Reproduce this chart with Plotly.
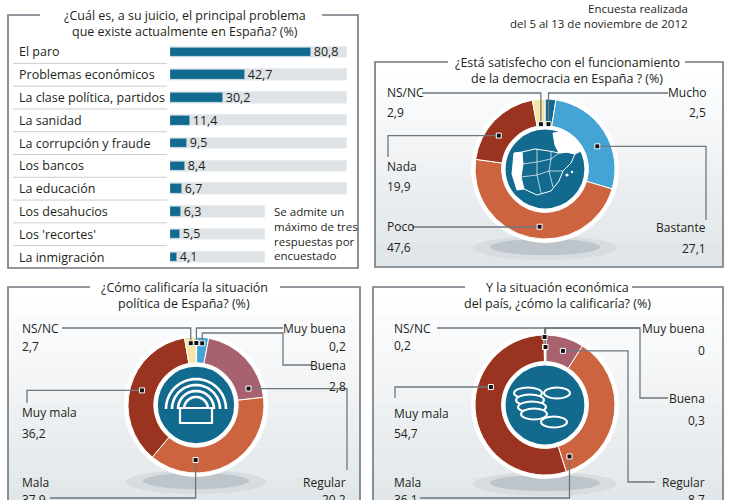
import math
import plotly.graph_objects as go

W, H = 730, 500

# ---------------- datos ----------------
problemas = ['El paro', 'Problemas económicos', 'La clase política, partidos', 'La sanidad',
             'La corrupción y fraude', 'Los bancos', 'La educación', 'Los desahucios',
             "Los 'recortes'", 'La inmigración']
problemas_pct = [80.8, 42.7, 30.2, 11.4, 9.5, 8.4, 6.7, 6.3, 5.5, 4.1]

democracia = ['Mucho', 'Bastante', 'Poco', 'Nada', 'NS/NC']
democracia_pct = [2.5, 27.1, 47.6, 19.9, 2.9]

politica = ['Muy buena', 'Buena', 'Regular', 'Mala', 'Muy mala', 'NS/NC']
politica_pct = [0.2, 2.8, 20.2, 37.9, 36.2, 2.7]

economia = ['Muy buena', 'Buena', 'Regular', 'Mala', 'Muy mala', 'NS/NC']
economia_pct = [0, 0.3, 8.7, 36.1, 54.7, 0.2]

# colores
AZUL = '#126b8e'
CLARO = '#45a4d6'
NARANJA = '#cc6440'
GRANATE = '#9a3420'
MALVA = '#a8626f'
CREMA = '#f4e4a6'
PISTA = '#dfe3e6'
LINEA = '#6f777d'
TXT = '#231f20'
FONT = 'Open Sans'

col_dem = [AZUL, CLARO, NARANJA, GRANATE, CREMA]
col_sit = [AZUL, CLARO, MALVA, NARANJA, GRANATE, CREMA]


def px(x):
    return x / W


def py(y):
    return 1 - y / H


def fmt(v):
    return ('%g' % v).replace('.', ',')


def path(points, close=False):
    s = 'M ' + ' L '.join('%.5f %.5f' % (px(x), py(y)) for x, y in points)
    return s + (' Z' if close else '')


shapes = []
annotations = []


def line_path(points, color=LINEA, width=1.3, fill=None, close=False, layer='above'):
    d = dict(type='path', path=path(points, close), xref='paper', yref='paper',
             line=dict(color=color, width=width), layer=layer)
    if fill:
        d['fillcolor'] = fill
    shapes.append(d)


def circle(cx, cy, rx, ry=None, fill='white', color='rgba(0,0,0,0)', width=0, layer='below'):
    ry = rx if ry is None else ry
    shapes.append(dict(type='circle', xref='paper', yref='paper',
                       x0=px(cx - rx), x1=px(cx + rx), y0=py(cy + ry), y1=py(cy - ry),
                       fillcolor=fill, line=dict(color=color, width=width), layer=layer))


def text(x, y, s, size=12, anchor='left', color=TXT):
    annotations.append(dict(x=px(x), y=py(y), xref='paper', yref='paper', text=s,
                            showarrow=False, xanchor=anchor, yanchor='middle',
                            font=dict(family=FONT, size=size, color=color)))


# ---------------- paneles ----------------
def panel(x0, x1, y0, y1, gap0, gap1, title, tx, grad=True):
    if grad:
        n = 16
        for i in range(n):
            t = i / (n - 1)
            c = tuple(int(255 - (255 - e) * t) for e in (223, 229, 233))
            shapes.append(dict(type='rect', xref='paper', yref='paper',
                               x0=px(x0), x1=px(x1),
                               y0=py(y0 + (y1 - y0) * (i + 1) / n), y1=py(y0 + (y1 - y0) * i / n),
                               fillcolor='rgb(%d,%d,%d)' % c, line=dict(width=0), layer='below'))
    line_path([(gap0, y0), (x0, y0), (x0, y1), (x1, y1), (x1, y0), (gap1, y0)],
              width=1.6, layer='below')
    for i, t in enumerate(title):
        text(tx, y0 + i * 16.5, t, size=12.5, anchor='center')


panel(8, 358, 15, 268, 40, 322,
      ['¿Cuál es, a su juicio, el principal problema', 'que existe actualmente en España? (%)'],
      185, grad=False)
panel(375, 723, 62, 267, 448, 685,
      ['¿Está satisfecho con el funcionamiento', 'de la democracia en España ? (%)'], 567)
panel(8, 360, 287, 520, 90, 280,
      ['¿Cómo calificaría la situación', 'política de España? (%)'], 184)
panel(373, 723, 287, 520, 465, 632,
      ['Y la situación económica', 'del país, ¿cómo la calificaría? (%)'], 557)

text(690, 8, 'Encuesta realizada', size=11.5, anchor='right')
text(690, 23, 'del 5 al 13 de noviembre de 2012', size=11.5, anchor='right')

# ---------------- barras ----------------
fig = go.Figure()

XMAX = 101.4
pista = [XMAX] * 7 + [54.4] * 3

fig.add_trace(go.Bar(y=problemas, x=pista, orientation='h', width=0.5,
                     marker=dict(color=PISTA), hoverinfo='skip', showlegend=False))
fig.add_trace(go.Bar(y=problemas, x=problemas_pct, orientation='h', width=0.42,
                     marker=dict(color=AZUL), text=[fmt(v) for v in problemas_pct],
                     textposition='outside', constraintext='none', cliponaxis=False,
                     textfont=dict(family=FONT, size=12.5, color=TXT),
                     hoverinfo='skip', showlegend=False))

for i, p in enumerate(problemas):
    annotations.append(dict(x=px(17), y=p, xref='paper', yref='y', text=p, showarrow=False,
                            xanchor='left', yanchor='middle',
                            font=dict(family=FONT, size=12.5, color=TXT)))
    if i < len(problemas) - 1:
        shapes.append(dict(type='line', xref='paper', yref='y', x0=px(13), x1=px(167),
                           y0=i + 0.5, y1=i + 0.5, line=dict(color='#c9ced1', width=1),
                           layer='below'))

for i, s in enumerate(['Se admite un', 'máximo de tres', 'respuestas por', 'encuestado']):
    text(272, 212 + i * 14.5, s, size=11.5)


# ---------------- donuts ----------------
HOLE = 0.62


def donut(labels, values, colors, cx, cy, R, icon, layout):
    circle(cx, cy + R + 9, R + 2, 12, fill='#d6dce0')
    circle(cx, cy + R + 8, R - 15, 8, fill='#bdc5cb')
    circle(cx, cy, R + 4, fill='white')
    circle(cx, cy, HOLE * R - 3, fill=AZUL, color='white', width=2)
    icon(cx, cy)
    fig.add_trace(go.Pie(labels=labels, values=values, sort=False, direction='clockwise',
                         rotation=0, hole=HOLE, textinfo='none', hoverinfo='skip',
                         showlegend=False,
                         marker=dict(colors=colors, line=dict(color='white', width=1)),
                         domain=dict(x=[px(cx - R), px(cx + R)], y=[py(cy + R), py(cy - R)])))
    total = sum(values)
    cum = 0
    for lab, v, lay in zip(labels, values, layout):
        frac = lay.get('frac', 0.5)
        ang = math.radians(360 * (cum + frac * v) / total)
        cum += v
        dx = cx + lay['r'] * math.sin(ang)
        dy = cy - lay['r'] * math.cos(ang)
        pts = [(dx, dy)]
        for axis, val in lay['route']:
            x, y = pts[-1]
            pts.append((val, y) if axis == 'x' else (x, val))
        line_path(pts)
        shapes.append(dict(type='rect', xref='paper', yref='paper',
                           x0=px(dx - 2.5), x1=px(dx + 2.5), y0=py(dy + 2.5), y1=py(dy - 2.5),
                           fillcolor='#111', line=dict(color='white', width=1), layer='above'))
        tx, ty, anc = lay['text']
        text(tx, ty, lab, anchor=anc)
        text(tx, ty + lay.get('dv', 20), fmt(v), anchor=anc)


def icono_mapa(cx, cy):
    rel = lambda pts: [(cx + a, cy + b) for a, b in pts]
    # Francia
    line_path(rel([(8, -36), (20, -37), (31, -28), (36, -18), (30, -15), (22, -17),
                   (14, -16), (10, -24)]), color='white', width=1, fill='white', close=True,
              layer='below')
    # Portugal
    line_path(rel([(-31, -16), (-23, -17), (-22, -5), (-24, 8), (-21, 20), (-28, 21),
                   (-33, 5)]), color='white', width=1, fill='white', close=True, layer='below')
    # costa y fronteras
    line_path(rel([(-23, -17), (-10, -20), (4, -18), (14, -16), (22, -17), (30, -15), (26, -6),
                   (18, 2), (14, 12), (6, 22), (-8, 26), (-21, 20)]), color='white',
              width=1, layer='below')
    line_path(rel([(-22, -5), (-8, -7), (6, -10), (14, -16)]), color='white', width=0.7,
              layer='below')
    line_path(rel([(-24, 8), (-8, 6), (4, 2), (18, 2)]), color='white', width=0.7,
              layer='below')
    line_path(rel([(-8, -20), (-8, -7), (-8, 6), (-4, 24)]), color='white', width=0.7,
              layer='below')
    line_path(rel([(6, -18), (6, -10), (4, 2), (8, 18)]), color='white', width=0.7,
              layer='below')
    circle(cx + 22, cy + 6, 1.6, fill='white')
    circle(cx + 27, cy + 3, 1.2, fill='white')


def icono_congreso(cx, cy):
    base = cy + 4
    for r in (12, 18, 24, 30):
        pts = [(cx + r * math.cos(math.radians(a)), base - r * math.sin(math.radians(a)))
               for a in range(0, 181, 6)]
        line_path(pts, color='white', width=2.6, layer='below')
    line_path([(cx - 16, base - 1), (cx + 16, base - 1), (cx + 16, base + 14),
               (cx - 16, base + 14)], color='white', width=2.2, fill=AZUL, close=True,
              layer='below')


def icono_monedas(cx, cy):
    for a, b, rx in [(-17, -12, 14), (-15, -5, 14), (-13, 2, 14), (-11, 9, 13),
                     (12, -12, 13), (9, 17, 13)]:
        circle(cx + a, cy + b, rx, 5.5, fill=AZUL, color='white', width=2)


donut(democracia, democracia_pct, col_dem, 545, 169, 70, icono_mapa, [
    dict(r=45, route=[('y', 93), ('x', 668)], text=(708, 93, 'right')),
    dict(r=57, frac=0.59, route=[('x', 706), ('y', 220)], text=(708, 228, 'right')),
    dict(r=58, frac=0.46, route=[('y', 227), ('x', 412)], text=(385, 227, 'left')),
    dict(r=57, frac=0.39, route=[('x', 388), ('y', 157)], text=(385, 166, 'left')),
    dict(r=45, route=[('y', 93), ('x', 422)], text=(385, 93, 'left')),
])

donut(politica, politica_pct, col_sit, 196, 405, 68, icono_congreso, [
    dict(r=62, route=[('y', 328), ('x', 283)], text=(348, 328, 'right'), dv=18),
    dict(r=62, route=[('y', 333), ('x', 283), ('y', 365), ('x', 312)],
         text=(348, 365, 'right'), dv=21),
    dict(r=55, frac=0.85, route=[('x', 347), ('y', 470)], text=(348, 482, 'right'), dv=17),
    dict(r=55, frac=0.71, route=[('y', 498), ('x', 50)], text=(20, 482, 'left'), dv=17),
    dict(r=56, route=[('x', 27), ('y', 403)], text=(20, 412, 'left'), dv=21),
    dict(r=62, route=[('y', 328), ('x', 62)], text=(20, 328, 'left'), dv=18),
])

donut(economia, economia_pct, col_sit, 545, 405, 70, icono_monedas, [
    dict(r=58, route=[('y', 328), ('x', 640)], text=(707, 328, 'right'), dv=22),
    dict(r=58, route=[('y', 328), ('x', 640), ('y', 398), ('x', 668)],
         text=(707, 398, 'right'), dv=22),
    dict(r=57, frac=0.55, route=[('x', 628), ('y', 482), ('x', 655)],
         text=(707, 482, 'right'), dv=17),
    dict(r=57, frac=0.94, route=[('y', 498), ('x', 420)], text=(392, 482, 'left'), dv=17),
    dict(r=57, frac=0.64, route=[('x', 395), ('y', 398)], text=(392, 413, 'left'), dv=20),
    dict(r=68, route=[('y', 328), ('x', 437)], text=(392, 328, 'left'), dv=17),
])

fig.update_layout(
    width=W, height=H, margin=dict(l=0, r=0, t=0, b=0),
    paper_bgcolor='white', plot_bgcolor='rgba(0,0,0,0)',
    barmode='overlay', bargap=0,
    xaxis=dict(domain=[px(170), px(347)], range=[0, XMAX], visible=False, fixedrange=True),
    yaxis=dict(domain=[py(268.4), py(40.6)], type='category', range=[9.5, -0.5],
               visible=False, fixedrange=True),
    shapes=shapes, annotations=annotations,
    font=dict(family=FONT, color=TXT),
)

# sin el margen por defecto del <body>, para que el gráfico quede en la esquina
fig.write_html('out.html', config={'displayModeBar': False},
               post_script="document.body.style.margin='0';")
